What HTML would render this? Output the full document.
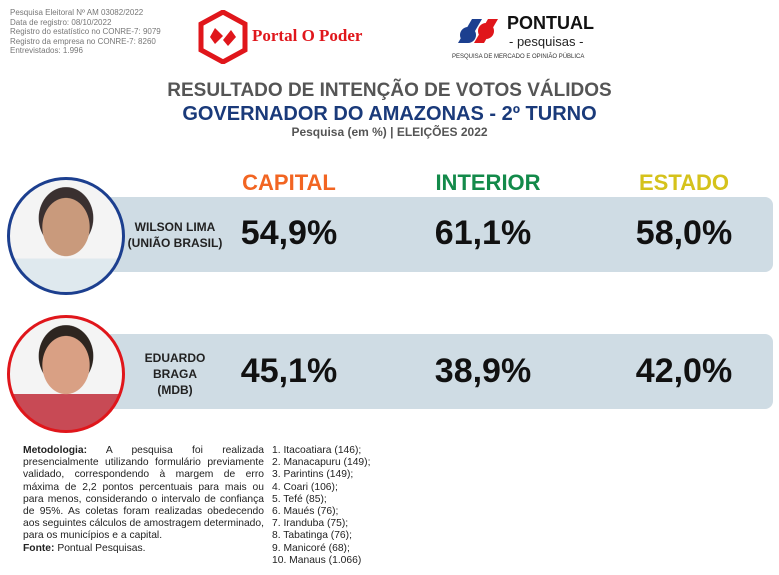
<!DOCTYPE html>
<html><head><meta charset="utf-8"><style>
body{margin:0;width:779px;height:575px;background:#fff;position:relative;overflow:hidden;font-family:"Liberation Sans",sans-serif}
.a{position:absolute;white-space:nowrap}
.bar{position:absolute;left:110px;width:663px;height:75px;background:#cfdce4;border-radius:0 8px 8px 0}
.pct{position:absolute;font-weight:bold;font-size:34px;color:#111;width:200px;text-align:center}
.hd{position:absolute;font-weight:bold;font-size:22px;width:200px;text-align:center;top:170px}
.nm{position:absolute;font-weight:bold;font-size:12px;color:#222;text-align:center;width:110px;left:120px;line-height:16px}
.c{position:absolute;width:112px;height:112px;border-radius:50%;background:#f2f2f2;overflow:hidden}
</style></head><body>
<div class="a" style="left:10px;top:8px;font-size:8px;line-height:9.5px;color:#777">Pesquisa Eleitoral Nº AM 03082/2022<br>Data de registro: 08/10/2022<br>Registro do estatístico no CONRE-7: 9079<br>Registro da empresa no CONRE-7: 8260<br>Entrevistados: 1.996</div>
<svg class="a" style="left:198px;top:10px" width="50" height="54" viewBox="0 0 50 54"><polygon points="25,2 47,14 47,40 25,52 3,40 3,14" fill="none" stroke="#e0161b" stroke-width="5"/><path d="M17,18 L25,26 L17,34 L12,27Z M33,20 L38,27 L30,36 L25,30Z" fill="#e0161b"/></svg>
<div class="a" style="left:252px;top:26px;font-family:'Liberation Serif',serif;font-weight:bold;font-size:17px;color:#e0161b">Portal O Poder</div>
<svg class="a" style="left:452px;top:13px" width="52" height="36" viewBox="0 0 52 36"><path d="M6,30 L20,6 L30,6 L16,30Z" fill="#1c3f8f"/><path d="M22,30 L36,6 L46,6 L32,30Z" fill="#e0161b"/><circle cx="16" cy="22" r="8" fill="#1c3f8f"/><circle cx="34" cy="18" r="8" fill="#e0161b"/></svg>
<div class="a" style="left:507px;top:13px;font-weight:bold;font-size:18px;color:#111">PONTUAL</div>
<div class="a" style="left:509px;top:34px;font-size:13px;color:#222">- pesquisas -</div>
<div class="a" style="left:452px;top:54px;font-size:6px;color:#333">PESQUISA DE MERCADO E OPINIÃO PÚBLICA</div>
<div class="a" style="left:0;width:779px;text-align:center;top:80px;font-weight:bold;font-size:19px;color:#555">RESULTADO DE INTENÇÃO DE VOTOS VÁLIDOS</div>
<div class="a" style="left:0;width:779px;text-align:center;top:103px;font-weight:bold;font-size:20px;color:#1a3a7a">GOVERNADOR DO AMAZONAS - 2º TURNO</div>
<div class="a" style="left:0;width:779px;text-align:center;top:125px;font-weight:bold;font-size:12px;color:#555">Pesquisa (em %) | ELEIÇÕES 2022</div>
<div class="hd" style="left:189px;color:#f26522">CAPITAL</div>
<div class="hd" style="left:388px;color:#138a4a">INTERIOR</div>
<div class="hd" style="left:584px;color:#d5c21b">ESTADO</div>
<div class="bar" style="top:197px"></div>
<div class="bar" style="top:334px"></div>
<div class="c" style="left:7px;top:177px;border:3px solid #1c3f8f;background:radial-gradient(ellipse 26px 32px at 50% 42%,#c99a7c 0 90%,transparent 92%),radial-gradient(ellipse 30px 34px at 50% 34%,#3a3030 0 90%,transparent 92%),linear-gradient(#f4f4f4 0 70%,#dfe9ee 70%)"></div>
<div class="c" style="left:7px;top:315px;border:3px solid #e0161b;background:radial-gradient(ellipse 26px 32px at 50% 42%,#d9a084 0 90%,transparent 92%),radial-gradient(ellipse 30px 34px at 50% 34%,#2d2520 0 90%,transparent 92%),linear-gradient(#f4f4f4 0 68%,#c84a55 68%)"></div>
<div class="nm" style="top:219px">WILSON LIMA<br>(UNIÃO BRASIL)</div>
<div class="nm" style="top:350px">EDUARDO<br>BRAGA<br>(MDB)</div>
<div class="pct" style="left:189px;top:214px">54,9%</div>
<div class="pct" style="left:383px;top:214px">61,1%</div>
<div class="pct" style="left:584px;top:214px">58,0%</div>
<div class="pct" style="left:189px;top:352px">45,1%</div>
<div class="pct" style="left:383px;top:352px">38,9%</div>
<div class="pct" style="left:584px;top:352px">42,0%</div>
<div class="a" style="left:23px;top:445px;width:241px;white-space:normal;text-align:justify;font-size:10.3px;line-height:12.2px;color:#222"><b>Metodologia:</b> A pesquisa foi realizada presencialmente utilizando formulário previamente validado, correspondendo à margem de erro máxima de 2,2 pontos percentuais para mais ou para menos, considerando o intervalo de confiança de 95%. As coletas foram realizadas obedecendo aos seguintes cálculos de amostragem determinado, para os municípios e a capital.<br><b>Fonte:</b> Pontual Pesquisas.</div>
<div class="a" style="left:272px;top:445px;font-size:10.3px;line-height:12.2px;color:#222">1. Itacoatiara (146);<br>2. Manacapuru (149);<br>3. Parintins (149);<br>4. Coari (106);<br>5. Tefé (85);<br>6. Maués (76);<br>7. Iranduba (75);<br>8. Tabatinga (76);<br>9. Manicoré (68);<br>10. Manaus (1.066)</div>
</body></html>
